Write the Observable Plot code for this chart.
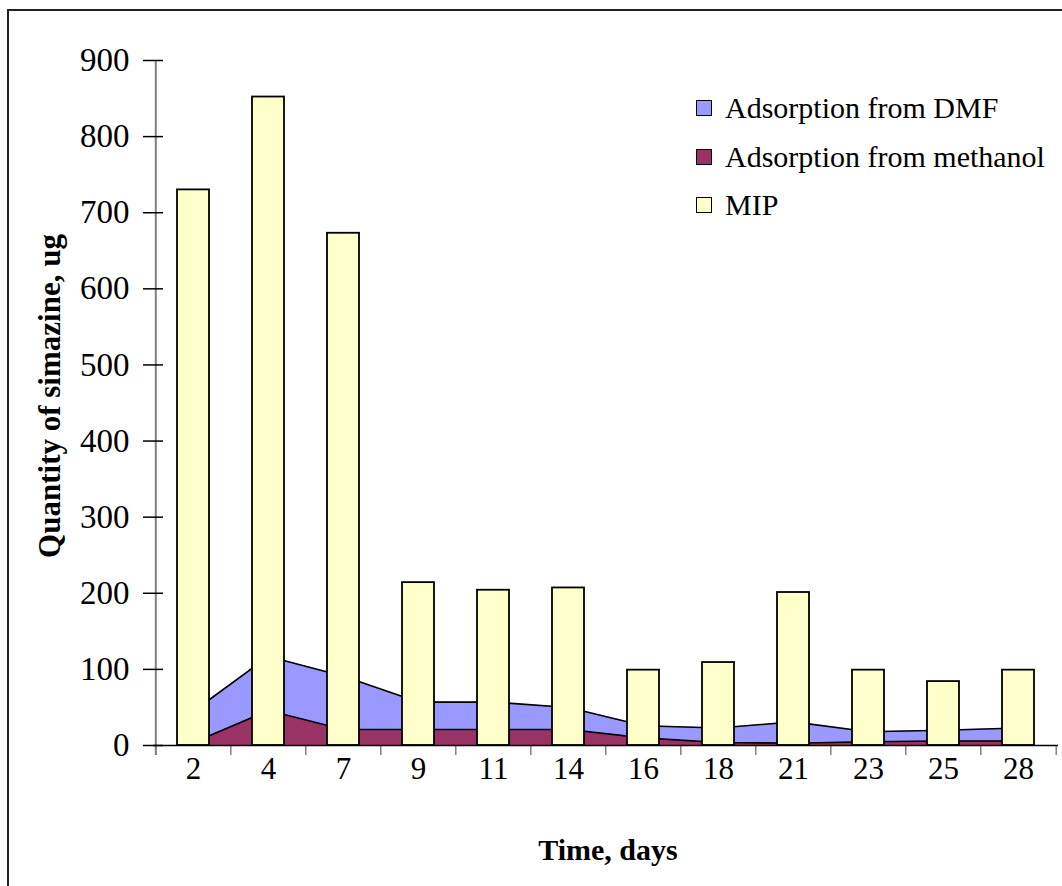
<!DOCTYPE html>
<html>
<head>
<meta charset="utf-8">
<script src="https://cdn.jsdelivr.net/npm/d3@7"></script>
<script src="https://cdn.jsdelivr.net/npm/@observablehq/plot@0.6"></script>
<style>
  html, body { margin: 0; padding: 0; background: #fff; }
  #wrap { position: relative; width: 1062px; height: 886px; overflow: hidden; background: #fff; }
  #frame { position: absolute; left: 7px; top: 9px; width: 2000px; height: 2000px; border-left: 2px solid #222; border-top: 2px solid #222; }
  #chart { position: absolute; left: 0; top: 0; }
  #legend { position: absolute; left: 696px; top: 84px; font-family: "Liberation Serif", "Times New Roman", serif; font-size: 30px; color: #000; }
  .row { display: flex; align-items: center; height: 48.5px; }
  .sw { width: 14px; height: 14px; border: 1.5px solid #000; margin-right: 13px; }
</style>
</head>
<body>
<div id="wrap">
  <div id="frame"></div>
  <div id="chart"></div>
  <div id="legend"></div>
</div>
<script>
// ---- data ----
const days = ["2", "4", "7", "9", "11", "14", "16", "18", "21", "23", "25", "28"];
const mip = [730, 852, 673, 214, 204, 207, 99, 109, 201, 99, 84, 99];
const dmf = [45, 117, 91, 57, 57, 50, 26, 23, 31, 18, 20, 23];
const methanol = [4, 46, 21, 21, 21, 21, 10, 4, 3, 5, 6, 6];
const yTicks = [0, 100, 200, 300, 400, 500, 600, 700, 800, 900];
const seriesNames = ["Adsorption from DMF", "Adsorption from methanol", "MIP"];
const seriesColors = ["#9999FF", "#993366", "#FFFFCC"];

const rows = days.map((d, i) => ({day: d, mip: mip[i], dmf: dmf[i], methanol: methanol[i]}));

const W = 1062, H = 886;
const mL = 153, mR = 4, mT = 60, mB = H - 745;
const step = (W - mL - mR) / days.length;
const font = "Liberation Serif, Times New Roman, serif";

const chart = Plot.plot({
  width: W,
  height: H,
  marginLeft: mL,
  marginRight: mR,
  marginTop: mT,
  marginBottom: mB,
  style: {fontFamily: font, background: "transparent", color: "#000"},
  x: {type: "band", domain: days, paddingInner: 0.576, paddingOuter: 0.288, align: 0.5},
  y: {domain: [0, 900]},
  marks: [
    // areas
    Plot.areaY(rows, {x: "day", y: "dmf", fill: seriesColors[0], curve: "linear"}),
    Plot.lineY(rows, {x: "day", y: "dmf", stroke: "#000", strokeWidth: 1.6, curve: "linear"}),
    Plot.areaY(rows, {x: "day", y: "methanol", fill: seriesColors[1], curve: "linear"}),
    Plot.lineY(rows, {x: "day", y: "methanol", stroke: "#000", strokeWidth: 1.6, curve: "linear"}),
    // bars
    Plot.barY(rows, {x: "day", y: "mip", fill: seriesColors[2], stroke: "#000", strokeWidth: 1.8}),
    // y axis line (gray) at left edge of first band step
    Plot.ruleX([days[0]], {x: d => d, y1: -13, y2: 900, dx: -step / 2, stroke: "#808080", strokeWidth: 2}),
    // x axis boundary ticks (gray)
    Plot.ruleX(days, {x: d => d, y1: 0, y2: -13, dx: -step / 2, stroke: "#808080", strokeWidth: 1.5}),
    Plot.ruleX([days[days.length - 1]], {x: d => d, y1: 0, y2: -13, dx: step / 2, stroke: "#808080", strokeWidth: 1.5}),
    // x axis line
    Plot.ruleY([0], {stroke: "#000", strokeWidth: 1.5}),
    // y ticks crossing the axis
    Plot.axisY({ticks: yTicks, tickSize: 20, dx: 10, text: null, stroke: "#000", strokeWidth: 1.5}),
    // y tick labels
    Plot.axisY({ticks: yTicks, tickSize: 0, tickPadding: 24, fontSize: 33, fill: "#000", label: null}),
    // x tick labels
    Plot.axisX({tickSize: 0, tickPadding: 11, fontSize: 31, fill: "#000", label: null}),
    // titles
    Plot.text(["Quantity of simazine, ug"], {frameAnchor: "left", textAnchor: "middle", dx: -103, dy: -7, rotate: -90, fontSize: 31, fontWeight: "bold", fill: "#000"}),
    Plot.text(["Time, days"], {frameAnchor: "bottom", textAnchor: "middle", dx: 2, dy: 114, fontSize: 30, fontWeight: "bold", fill: "#000"})
  ]
});
document.getElementById("chart").appendChild(chart);

// legend
const lg = document.getElementById("legend");
seriesNames.forEach((name, i) => {
  const r = document.createElement("div");
  r.className = "row";
  const s = document.createElement("div");
  s.className = "sw";
  s.style.background = seriesColors[i];
  const t = document.createElement("span");
  t.textContent = name;
  r.appendChild(s);
  r.appendChild(t);
  lg.appendChild(r);
});
</script>
</body>
</html>
